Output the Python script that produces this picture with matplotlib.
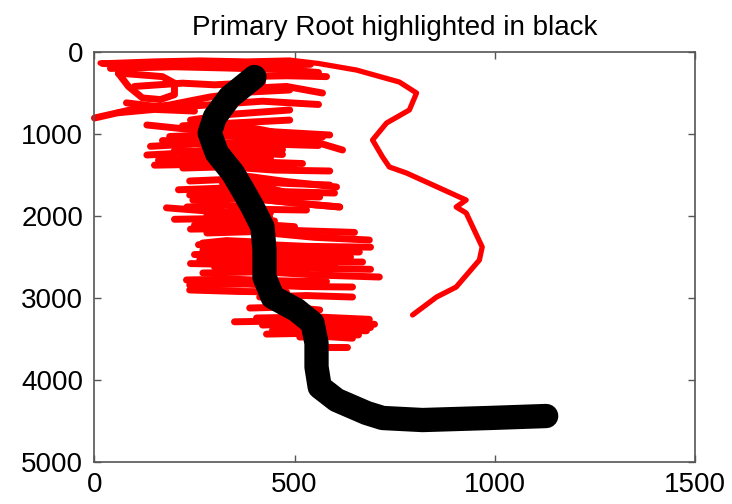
import matplotlib
matplotlib.use('Agg')
import matplotlib.pyplot as plt

# primary root (black), data units: x across, y = depth
primary_x = [400, 338, 301, 288, 306, 346, 371, 395, 420, 425, 425, 445, 505, 545,
             555, 555, 563, 605, 680, 720, 820, 987, 1129]
primary_y = [305, 549, 793, 988, 1232, 1476, 1683, 1890, 2134, 2415, 2744, 2988, 3146, 3305,
             3549, 3841, 4085, 4244, 4402, 4463, 4488, 4463, 4439]

# the long lateral that loops out to the right
long_x = [14, 150, 263, 380, 487, 560, 655, 762, 805, 787, 730, 695, 720, 737, 780,
          912, 929, 904, 929, 969, 962, 904, 855, 795]
long_y = [134, 110, 98, 110, 98, 140, 220, 366, 500, 707, 866, 1073, 1280, 1402, 1476,
          1768, 1805, 1890, 1963, 2378, 2537, 2866, 2988, 3207]

# other lateral roots (red)
lateral_x = [
    [40, 200, 330, 470, 560],
    [20, 150, 290, 420, 540],
    [370, 480, 580],
    [400, 480, 570],
    [60, 85, 120, 165, 200, 200, 170, 120, 80, 60],
    [0, 89, 188, 288, 388, 488],
    [80, 180, 300, 420, 560],
    [100, 220, 300, 420],
    [60, 150, 250],
    [240, 340, 488],
    [220, 330, 488],
    [321, 420, 520, 620],
    [300, 440, 570],
    [131, 250, 400, 588],
    [131, 230, 338, 440],
    [221, 330, 450, 588],
    [238, 350, 470, 588],
    [238, 360, 460, 563],
    [140, 250, 350, 470],
    [270, 420, 520, 613],
    [320, 430, 520],
    [360, 480, 605],
    [231, 330, 430, 530],
    [246, 400, 520, 613],
    [281, 360, 438],
    [281, 400, 550, 687],
    [271, 400, 540, 662],
    [263, 380, 520, 670],
    [271, 420, 560, 712],
    [238, 380, 520, 645],
    [238, 360, 480],
    [250, 380, 500],
    [270, 330, 420],
    [413, 530, 645],
    [388, 480, 563],
    [405, 550, 687],
    [445, 560, 680],
    [513, 580, 645],
    [580, 630],
    [420, 520, 620],
    [300, 420, 560, 690],
    [188, 300, 420, 540],
    [160, 280, 400, 520],
    [200, 330, 470],
    [170, 290, 420, 560],
    [150, 260, 380, 500],
    [210, 320, 450, 600],
    [240, 380, 520, 650],
    [250, 370, 500, 640],
    [240, 350, 470, 600],
    [230, 340, 460, 580],
    [260, 390, 530, 690],
    [350, 470, 600, 700],
    [430, 540, 660],
    [470, 590, 690],
    [200, 320, 450],
    [180, 310, 440],
]
lateral_y = [
    [200, 180, 195, 215, 250],
    [140, 160, 150, 165, 150],
    [300, 290, 300],
    [440, 420, 500],
    [260, 420, 560, 580, 520, 380, 300, 280, 265, 260],
    [805, 707, 646, 549, 488, 463],
    [620, 680, 640, 600, 640],
    [420, 380, 400, 370],
    [740, 700, 720],
    [830, 760, 707],
    [900, 870, 830],
    [866, 950, 1050, 1195],
    [960, 1000, 1037],
    [890, 950, 960, 1012],
    [1256, 1230, 1260, 1300],
    [1415, 1400, 1440, 1451],
    [1573, 1550, 1600, 1622],
    [1744, 1720, 1760, 1768],
    [1150, 1120, 1160, 1190],
    [1760, 1800, 1850, 1890],
    [1600, 1650, 1768],
    [1500, 1580, 1646],
    [1890, 1870, 1920, 1927],
    [1805, 1790, 1850, 1890],
    [1988, 1980, 2012],
    [2207, 2190, 2260, 2293],
    [2415, 2400, 2430, 2439],
    [2537, 2520, 2560, 2561],
    [2695, 2680, 2720, 2744],
    [2841, 2830, 2860, 2866],
    [2902, 2920, 2927],
    [2110, 2090, 2130],
    [2330, 2300, 2320],
    [2988, 2970, 2988],
    [3122, 3110, 3146],
    [3244, 3230, 3260],
    [3390, 3380, 3400],
    [3476, 3470, 3490],
    [3598, 3598],
    [3330, 3310, 3340],
    [2620, 2610, 2640, 2650],
    [1030, 1010, 1060, 1080],
    [1320, 1300, 1340, 1360],
    [1200, 1220, 1250],
    [1080, 1100, 1120, 1140],
    [1380, 1370, 1400, 1420],
    [1680, 1660, 1700, 1720],
    [2160, 2150, 2180, 2200],
    [2470, 2460, 2490, 2500],
    [2580, 2590, 2610, 2600],
    [2780, 2770, 2790, 2800],
    [2350, 2340, 2370, 2380],
    [3290, 3280, 3300, 3320],
    [3440, 3430, 3450],
    [3350, 3340, 3360],
    [2040, 2030, 2060],
    [1900, 1950, 1960],
]

x_ticks = [0, 500, 1000, 1500]
y_ticks = [0, 1000, 2000, 3000, 4000, 5000]

plt.rcParams['font.family'] = ['Liberation Sans', 'DejaVu Sans']

fig = plt.figure(figsize=(7.32, 5.04), dpi=100)
ax = fig.add_axes([0.129, 0.0833, 0.820, 0.8135])

red = '#ff0000'
ax.plot(long_x, long_y, color=red, lw=3.8, solid_capstyle='round', solid_joinstyle='round')
for xs, ys in zip(lateral_x, lateral_y):
    ax.plot(xs, ys, color=red, lw=5, solid_capstyle='round', solid_joinstyle='round',
            clip_on=False)
ax.plot(primary_x, primary_y, color='black', lw=17.5, solid_capstyle='round',
        solid_joinstyle='round')

ax.set_xlim(0, 1500)
ax.set_ylim(5000, 0)
ax.set_xticks(x_ticks)
ax.set_yticks(y_ticks)
ax.tick_params(direction='in', length=5, width=1, colors='#555555', labelcolor='black',
               labelsize=20, top=True, right=True)
ax.tick_params(axis='x', pad=7)
ax.tick_params(axis='y', pad=8)
for s in ax.spines.values():
    s.set_color('#555555')
    s.set_linewidth(1.2)

ax.set_title('Primary Root highlighted in black', fontsize=20, pad=12)

fig.savefig('out.png', dpi=100)
